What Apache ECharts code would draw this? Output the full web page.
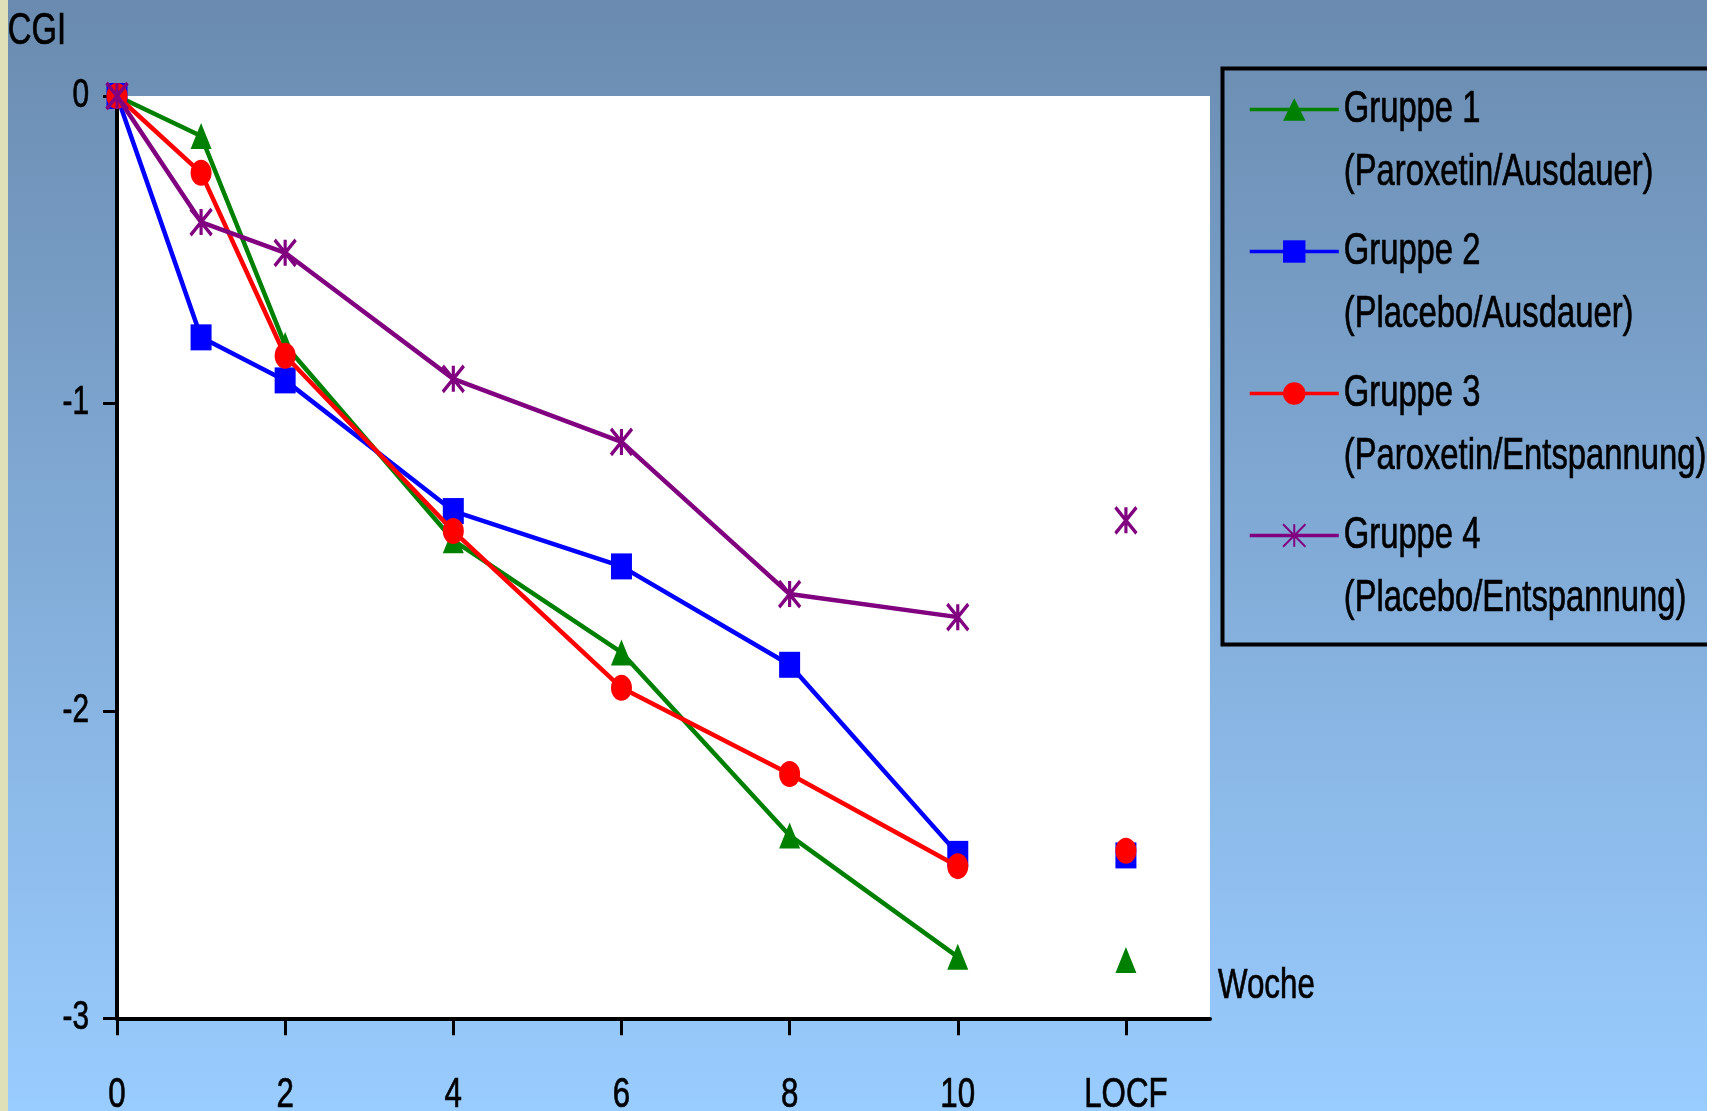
<!DOCTYPE html>
<html lang="de">
<head>
<meta charset="utf-8">
<title>CGI-Verlauf nach Gruppen</title>
<script src="https://cdn.jsdelivr.net/npm/echarts@6/dist/echarts.min.js"></script>
<style>
  html, body { margin: 0; padding: 0; background: #ffffff; }
  #chart { width: 1707px; height: 1111px; }
</style>
</head>
<body>
<div id="chart"></div>
<script>
// Study weeks with a measurement; LOCF is plotted in its own slot at the end
const weeks = [0, 1, 2, 4, 6, 8, 10];
const locfPos = 12;
const tickValues = [0, 2, 4, 6, 8, 10, 12];
const tickLabels = ['0', '2', '4', '6', '8', '10', 'LOCF'];

const groupNames = ['Gruppe 1', 'Gruppe 2', 'Gruppe 3', 'Gruppe 4'];
const groupSubtitles = [
  '(Paroxetin/Ausdauer)',
  '(Placebo/Ausdauer)',
  '(Paroxetin/Entspannung)',
  '(Placebo/Entspannung)'
];

// Mean CGI change per week
const gruppe1 = [0, -0.13, -0.81, -1.445, -1.81, -2.405, -2.80];
const gruppe2 = [0, -0.785, -0.925, -1.35, -1.53, -1.85, -2.465];
const gruppe3 = [0, -0.25, -0.845, -1.415, -1.925, -2.205, -2.505];
const gruppe4 = [0, -0.41, -0.51, -0.92, -1.125, -1.62, -1.695];

// Last observation carried forward
const locfValues = [-2.81, -2.47, -2.455, -1.38];

// Narrow type: every chart text is drawn horizontally condensed,
// and measured the same way so the layout stays consistent.
(function () {
  const NARROW = 0.745;
  const proto = CanvasRenderingContext2D.prototype;
  const fill = proto.fillText, stroke = proto.strokeText, measure = proto.measureText;
  function condensed(fn) {
    return function (text, x, y, maxWidth) {
      this.save();
      this.translate(x, y);
      this.scale(NARROW, 1);
      if (maxWidth !== undefined) fn.call(this, text, 0, 0, maxWidth / NARROW);
      else fn.call(this, text, 0, 0);
      this.restore();
    };
  }
  proto.fillText = condensed(fill);
  proto.strokeText = condensed(stroke);
  proto.measureText = function (text) {
    const m = measure.call(this, text);
    return {
      width: m.width * NARROW,
      actualBoundingBoxLeft: m.actualBoundingBoxLeft * NARROW,
      actualBoundingBoxRight: m.actualBoundingBoxRight * NARROW,
      actualBoundingBoxAscent: m.actualBoundingBoxAscent,
      actualBoundingBoxDescent: m.actualBoundingBoxDescent,
      fontBoundingBoxAscent: m.fontBoundingBoxAscent,
      fontBoundingBoxDescent: m.fontBoundingBoxDescent
    };
  };
})();

const FONT = "'Liberation Sans', Arial, sans-serif";
// slightly heavier strokes for the narrow lettering
const INK = { color: '#000', fontFamily: FONT, textBorderColor: '#000', textBorderWidth: 0.7 };

const groupSeries = [gruppe1, gruppe2, gruppe3, gruppe4];
const colors = ['#008000', '#0000FF', '#FF0000', '#800080'];
const symbols = [
  'triangle',
  'rect',
  'path://M0,13 A10.5,13 0 1,1 21,13 A10.5,13 0 1,1 0,13 Z',
  'path://M0,0 L21,26 M21,0 L0,26 M10.5,0 L10.5,26'
];
const itemStyles = [
  { color: colors[0], opacity: 1 },
  { color: colors[1], opacity: 1 },
  { color: colors[2], opacity: 1 },
  { color: colors[3], borderColor: colors[3], borderWidth: 3.5, opacity: 1 }
];

const series = [];
groupSeries.forEach((vals, g) => {
  series.push({
    name: groupNames[g],
    type: 'line',
    data: weeks.map((w, i) => [w, vals[i]]),
    symbol: symbols[g],
    symbolSize: [21, 26],
    showAllSymbol: true,
    lineStyle: { color: colors[g], width: 4.5 },
    itemStyle: itemStyles[g],
    emphasis: { disabled: true },
    z: 2 + g
  });
});
groupSeries.forEach((vals, g) => {
  series.push({
    name: groupNames[g],
    type: 'scatter',
    data: [[locfPos, locfValues[g]]],
    symbol: symbols[g],
    symbolSize: [21, 26],
    itemStyle: itemStyles[g],
    emphasis: { disabled: true },
    z: 2 + g
  });
});

const chart = echarts.init(document.getElementById('chart'), null, { renderer: 'canvas' });

chart.setOption({
  animation: false,
  backgroundColor: {
    type: 'linear', x: 0, y: 0, x2: 0, y2: 1,
    colorStops: [
      { offset: 0, color: '#6A8BAF' },
      { offset: 1, color: '#99CCFF' }
    ]
  },
  textStyle: { fontFamily: FONT, color: '#000' },
  graphic: [
    { type: 'rect', left: 0, top: 0, shape: { width: 8, height: 1111 }, style: { fill: '#DFE0B8' }, silent: true },
    { type: 'rect', left: 1220, top: 66, shape: { width: 520, height: 576 },
      style: { fill: 'none', stroke: '#000', lineWidth: 4 }, silent: true }
  ],
  grid: {
    left: 117, right: 497, top: 96, bottom: 90,
    show: true, backgroundColor: '#ffffff', borderWidth: 0
  },
  xAxis: {
    type: 'value',
    min: 0, max: 13,
    name: 'Woche',
    nameLocation: 'end',
    nameGap: 8,
    nameTextStyle: Object.assign({ fontSize: 42, verticalAlign: 'bottom', lineHeight: 64 }, INK),
    splitLine: { show: false },
    axisLine: { show: true, onZero: false, lineStyle: { color: '#000', width: 4 } },
    axisTick: { show: true, length: 17, customValues: tickValues, lineStyle: { color: '#000', width: 3 } },
    axisLabel: Object.assign({
      customValues: tickValues,
      margin: 61,
      fontSize: 42,
      formatter: v => tickLabels[tickValues.indexOf(v)]
    }, INK)
  },
  yAxis: {
    type: 'value',
    min: -3, max: 0, interval: 1,
    name: 'CGI',
    nameLocation: 'end',
    nameGap: 64,
    nameTextStyle: Object.assign({ fontSize: 44, align: 'right', verticalAlign: 'middle', padding: [0, 51, 0, 0] }, INK),
    splitLine: { show: false },
    axisLine: { show: true, onZero: false, lineStyle: { color: '#000', width: 4 } },
    axisTick: { show: true, length: 14, lineStyle: { color: '#000', width: 3 } },
    axisLabel: Object.assign({ margin: 28, fontSize: 40 }, INK)
  },
  legend: {
    orient: 'vertical',
    left: 1248,
    top: 15,
    padding: 0,
    itemWidth: 89,
    itemHeight: 28,
    itemGap: -47,
    selectedMode: false,
    data: groupNames,
    lineStyle: { width: 3.5 },
    formatter: name => '\n' + name + '\n' + groupSubtitles[groupNames.indexOf(name)],
    textStyle: Object.assign({ fontSize: 44, lineHeight: 63 }, INK)
  },
  series: series
});
</script>
</body>
</html>
